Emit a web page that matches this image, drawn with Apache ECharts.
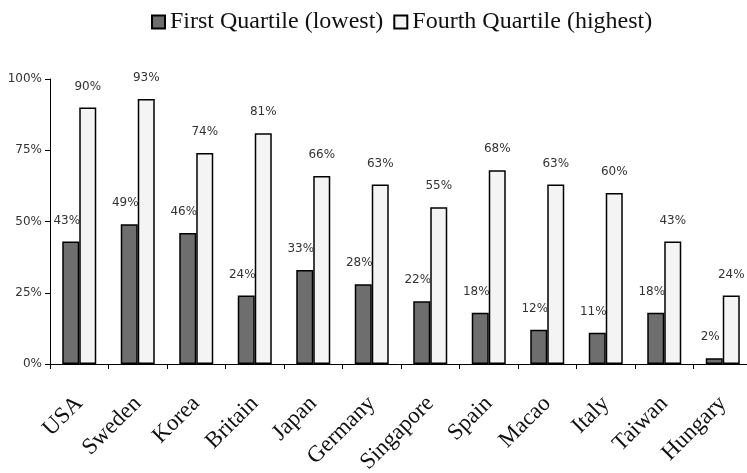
<!DOCTYPE html>
<html>
<head>
<meta charset="utf-8">
<script src="https://cdn.jsdelivr.net/npm/echarts@6/dist/echarts.min.js"></script>
<style>
html,body{margin:0;padding:0;background:#fff;}
#chart{width:747px;height:473px;}
</style>
</head>
<body>
<div id="chart"></div>
<script>
const categories = ['USA','Sweden','Korea','Britain','Japan','Germany','Singapore','Spain','Macao','Italy','Taiwan','Hungary'];
const firstQuartile = [43,49,46,24,33,28,22,18,12,11,18,2];
const fourthQuartile = [90,93,74,81,66,63,55,68,63,60,43,24];
const yTicks = [0,25,50,75,100];

const chart = echarts.init(document.getElementById('chart'), null, {renderer:'canvas'});
const labelFont = {fontFamily:'DejaVu Sans', fontSize:12, color:'#333'};
chart.setOption({
  animation:false,
  backgroundColor:'#fff',
  legend:{
    left:146, top:5, icon:'rect',
    itemWidth:13, itemHeight:13, itemGap:10,
    textStyle:{fontFamily:'Liberation Serif', fontSize:24, color:'#111'},
    data:['First Quartile (lowest)','Fourth Quartile (highest)']
  },
  grid:{left:50, right:-5, top:79, bottom:109, containLabel:false, outerBoundsMode:'none'},
  xAxis:{
    type:'category', data:categories,
    axisLine:{lineStyle:{color:'#000', width:1}},
    axisTick:{show:true, length:5, lineStyle:{color:'#000'}},
    axisLabel:{rotate:45, margin:36, padding:[0,0,18,0], interval:0, fontFamily:'Liberation Serif', fontSize:23, color:'#111'}
  },
  yAxis:{
    type:'value', min:yTicks[0], max:yTicks[yTicks.length-1], interval:25,
    splitLine:{show:false},
    axisLine:{show:true, lineStyle:{color:'#000', width:1}},
    axisTick:{show:true, length:5, lineStyle:{color:'#000'}},
    axisLabel:{margin:8, formatter:'{value}%', fontFamily:'DejaVu Sans', fontSize:12, color:'#333'}
  },
  series:[
    {
      name:'First Quartile (lowest)', type:'bar', data:firstQuartile,
      barWidth:17, barGap:'0%',
      itemStyle:{color:'#6e6e6e', borderColor:'#000', borderWidth:1.5},
      label:Object.assign({show:true, position:'top', distance:15, offset:[-4,0], formatter:'{c}%'}, labelFont)
    },
    {
      name:'Fourth Quartile (highest)', type:'bar', data:fourthQuartile,
      barWidth:17, barGap:'0%',
      itemStyle:{color:'#f4f4f4', borderColor:'#000', borderWidth:1.5},
      label:Object.assign({show:true, position:'top', distance:15, formatter:'{c}%'}, labelFont)
    }
  ]
});
</script>
</body>
</html>
